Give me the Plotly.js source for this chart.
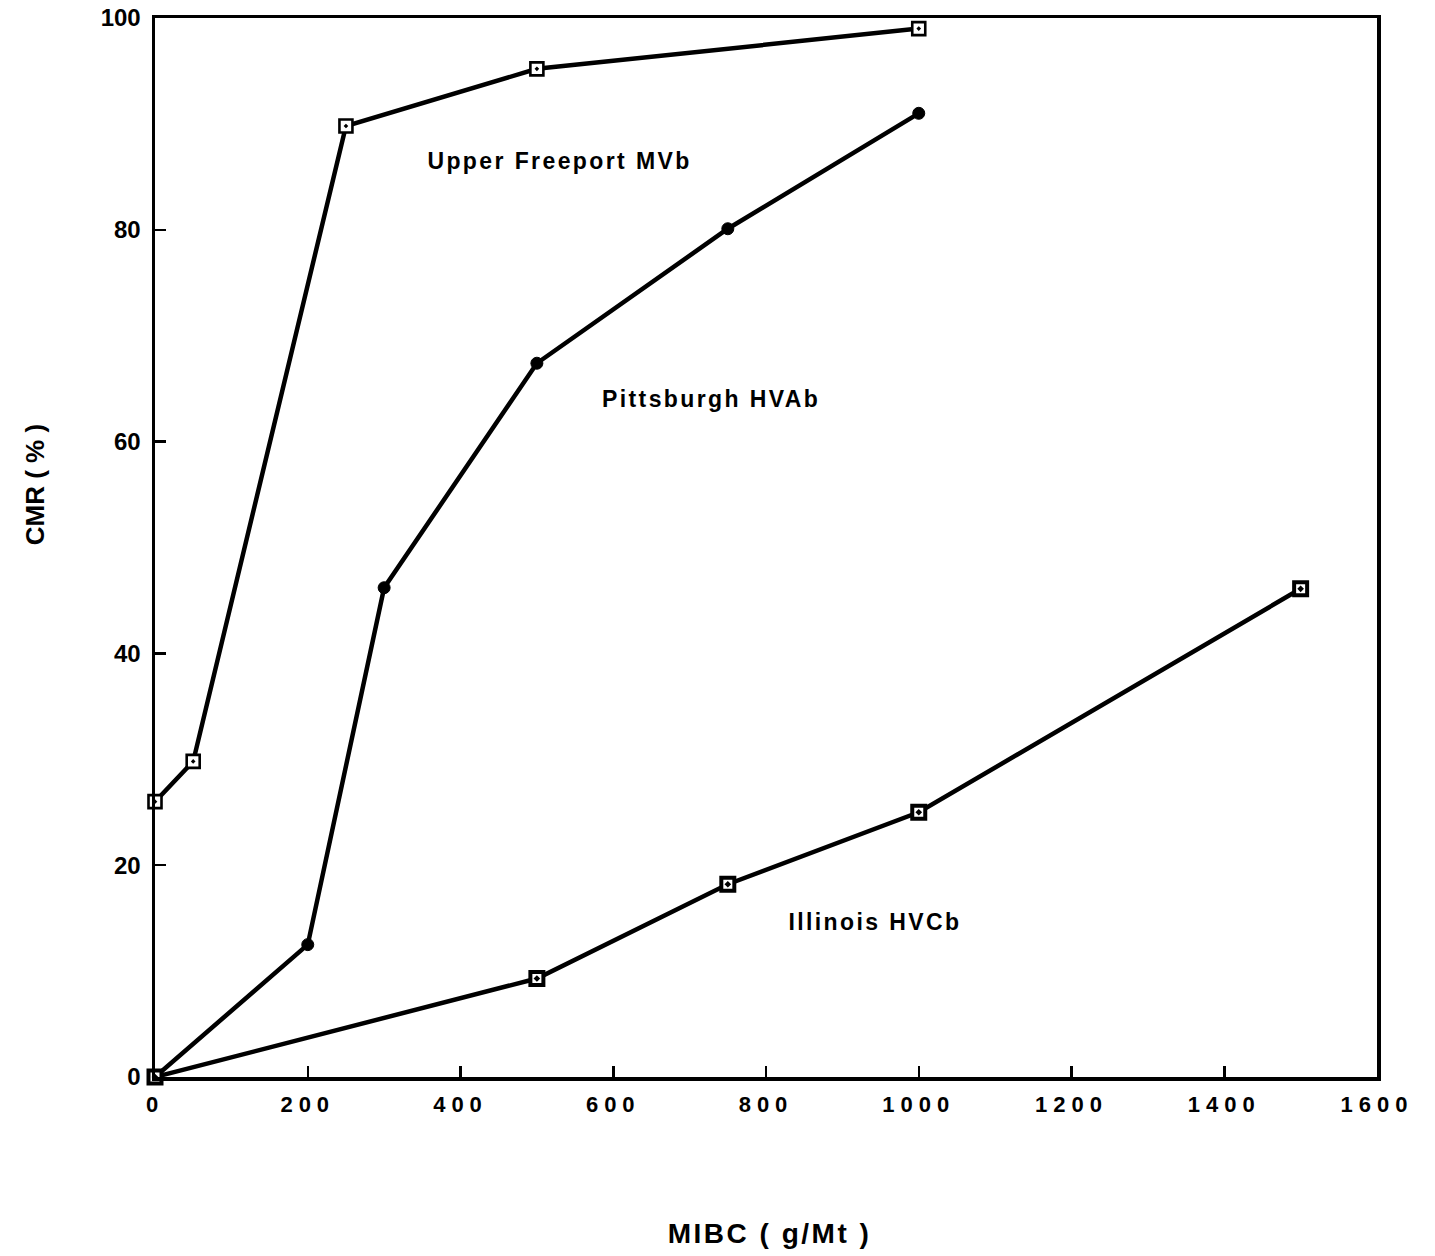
<!DOCTYPE html>
<html>
<head>
<meta charset="utf-8">
<script src="https://cdn.plot.ly/plotly-3.0.1.min.js"></script>
<style>
  html, body { margin: 0; padding: 0; background: #fff; }
  #chart { width: 1435px; height: 1256px; }
  .xtick text { letter-spacing: 6px; }
  .annotation[data-index="0"] text,
  .annotation[data-index="1"] text,
  .annotation[data-index="2"] text { letter-spacing: 2.4px; }
  .annotation[data-index="3"] text { letter-spacing: 2.5px; }
</style>
</head>
<body>
<div id="chart"></div>
<script>
// MIBC dosage (g/Mt) and combustible material recovery (%) per coal
const freeportX = [0, 50, 250, 500, 1000];
const freeportY = [26, 29.8, 89.8, 95.2, 99.0];

const pittsburghX = [0, 200, 300, 500, 750, 1000];
const pittsburghY = [0, 12.5, 46.2, 67.4, 80.1, 91.0];

const illinoisX = [0, 500, 750, 1000, 1500];
const illinoisY = [0, 9.3, 18.2, 25.0, 46.1];

const seriesLabels = ["Upper Freeport MVb", "Pittsburgh HVAb", "Illinois HVCb"];
const labelPos = [[530, 86.5], [728, 64.0], [943, 14.6]];

const xTitle = "MIBC ( g/Mt )";
const yTitle = "CMR ( % )";

const FONT = "Liberation Sans, Arial, Helvetica, sans-serif";
const lineStyle = {color: "#000", width: 4.5};

const traces = [
  {
    x: freeportX, y: freeportY, mode: "lines+markers", name: seriesLabels[0],
    line: lineStyle, cliponaxis: false,
    marker: {symbol: "square-dot", size: 13, color: "#fff", line: {color: "#000", width: 2.6}}
  },
  {
    x: pittsburghX, y: pittsburghY, mode: "lines+markers", name: seriesLabels[1],
    line: lineStyle, cliponaxis: false,
    marker: {symbol: "circle", size: 12, color: "#000", line: {color: "#000", width: 1}}
  },
  {
    x: illinoisX, y: illinoisY, mode: "lines+markers", name: seriesLabels[2],
    line: lineStyle, cliponaxis: false,
    marker: {symbol: "square-dot", size: 13, color: "#fff", line: {color: "#000", width: 4}}
  }
];

const annotations = seriesLabels.map((t, i) => ({
  text: t, x: labelPos[i][0], y: labelPos[i][1], xref: "x", yref: "y",
  showarrow: false, xanchor: "center", yanchor: "middle",
  font: {family: FONT, size: 23, weight: "bold", color: "#000"}
}));

annotations.push({
  text: xTitle, x: 0.503, y: -0.148, xref: "paper", yref: "paper",
  showarrow: false, xanchor: "center", yanchor: "middle",
  font: {family: FONT, size: 28, weight: "bold", color: "#000"}
});
annotations.push({
  text: yTitle, x: -0.098, y: 0.559, xref: "paper", yref: "paper",
  showarrow: false, xanchor: "center", yanchor: "middle", textangle: -90,
  font: {family: FONT, size: 26, weight: "bold", color: "#000"}
});

const axisCommon = {
  showgrid: false, zeroline: false, showline: true, mirror: true,
  linecolor: "#000", linewidth: 3.5,
  ticks: "inside", ticklen: 11, tickwidth: 2.5, tickcolor: "#000"
};

const layout = {
  width: 1435, height: 1256,
  margin: {l: 155, r: 58, t: 18, b: 179},
  paper_bgcolor: "#fff", plot_bgcolor: "#fff",
  showlegend: false,
  font: {family: FONT, color: "#000"},
  xaxis: Object.assign({}, axisCommon, {
    range: [0, 1600], dtick: 200, tick0: 0, ticklabelstandoff: 5,
    tickfont: {family: FONT, size: 22, weight: "bold", color: "#000"}
  }),
  yaxis: Object.assign({}, axisCommon, {
    range: [0, 100], dtick: 20, tick0: 0, ticklabelstandoff: 6,
    tickfont: {family: FONT, size: 24, weight: "bold", color: "#000"}
  }),
  annotations: annotations
};

Plotly.newPlot("chart", traces, layout, {staticPlot: true, displayModeBar: false});
</script>
</body>
</html>
